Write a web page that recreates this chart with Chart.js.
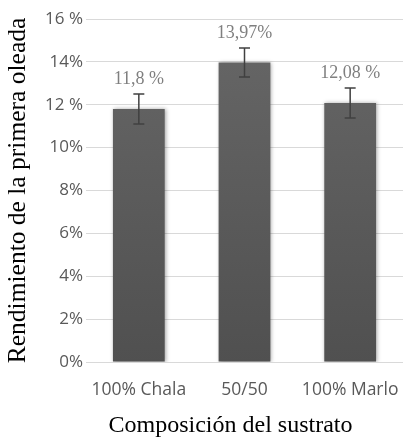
<!DOCTYPE html>
<html>
<head>
<meta charset="utf-8">
<script src="https://cdn.jsdelivr.net/npm/chart.js@4.4.0/dist/chart.umd.min.js"></script>
<style>
  html, body { margin: 0; padding: 0; background: #fff; }
  #wrap { width: 404px; height: 437px; }
</style>
</head>
<body>
<div id="wrap"><canvas id="c" width="404" height="437"></canvas></div>
<script>
// Yield of the first flush by substrate composition
const categories = ['100% Chala', '50/50', '100% Marlo'];
const yieldValues = [11.8, 13.97, 12.08];
const yieldErrors = [0.7, 0.68, 0.7];
const valueLabels = ['11,8 %', '13,97%', '12,08 %'];
const tickLabels = {0: '0%', 2: '2%', 4: '4%', 6: '6%', 8: '8%', 10: '10%', 12: '12 %', 14: '14%', 16: '16 %'};
const xAxisTitle = 'Composición del sustrato';
const yAxisTitle = 'Rendimiento de la primera oleada';

// Soft shadow around the bars
const barShadowPlugin = {
  id: 'barShadow',
  beforeDatasetsDraw(chart) {
    const ctx = chart.ctx;
    ctx.save();
    ctx.shadowColor = 'rgba(0,0,0,0.35)';
    ctx.shadowBlur = 4;
    ctx.shadowOffsetX = 1;
    ctx.shadowOffsetY = 0;
  },
  afterDatasetsDraw(chart) {
    chart.ctx.restore();
  }
};

// Error bars with caps, drawn through the chart scales
const errorBarPlugin = {
  id: 'errorBars',
  afterDatasetsDraw(chart) {
    const ctx = chart.ctx;
    const meta = chart.getDatasetMeta(0);
    const y = chart.scales.y;
    ctx.save();
    ctx.strokeStyle = '#404040';
    ctx.lineWidth = 1.5;
    meta.data.forEach((bar, i) => {
      const v = yieldValues[i], e = yieldErrors[i];
      const yTop = y.getPixelForValue(v + e);
      const yBot = y.getPixelForValue(v - e);
      const x = bar.x;
      const cap = 5.5;
      ctx.beginPath();
      ctx.moveTo(x, yTop); ctx.lineTo(x, yBot);
      ctx.moveTo(x - cap, yTop); ctx.lineTo(x + cap, yTop);
      ctx.moveTo(x - cap, yBot); ctx.lineTo(x + cap, yBot);
      ctx.stroke();
    });
    ctx.restore();
  }
};

// Value labels above each error bar
const valueLabelPlugin = {
  id: 'valueLabels',
  afterDatasetsDraw(chart) {
    const ctx = chart.ctx;
    const meta = chart.getDatasetMeta(0);
    const y = chart.scales.y;
    ctx.save();
    ctx.fillStyle = '#7f7f7f';
    ctx.font = '18px "Liberation Serif"';
    ctx.textAlign = 'center';
    ctx.textBaseline = 'alphabetic';
    meta.data.forEach((bar, i) => {
      const yTop = y.getPixelForValue(yieldValues[i] + yieldErrors[i]);
      ctx.fillText(valueLabels[i], bar.x, yTop - 10);
    });
    ctx.restore();
  }
};

// Category-axis title, set a little left of the plot centre
const xTitlePlugin = {
  id: 'xTitle',
  afterDraw(chart) {
    const ctx = chart.ctx;
    const area = chart.chartArea;
    ctx.save();
    ctx.fillStyle = '#000';
    ctx.font = '24px "Liberation Serif"';
    ctx.textAlign = 'center';
    ctx.textBaseline = 'alphabetic';
    ctx.fillText(xAxisTitle, (area.left + area.right) / 2 - 14, chart.height - 5);
    ctx.restore();
  }
};

const ctx = document.getElementById('c').getContext('2d');

function barFill(context) {
  const area = context.chart.chartArea;
  if (!area) return '#595959';
  const g = context.chart.ctx.createLinearGradient(0, area.top, 0, area.bottom);
  g.addColorStop(0, '#676767');
  g.addColorStop(1, '#505050');
  return g;
}

new Chart(ctx, {
  type: 'bar',
  data: {
    labels: categories,
    datasets: [{
      data: yieldValues,
      backgroundColor: barFill,
      borderWidth: 0,
      barPercentage: 0.7,
      categoryPercentage: 0.7
    }]
  },
  options: {
    responsive: false,
    animation: false,
    devicePixelRatio: 1,
    layout: { padding: { top: 19, right: 1, bottom: 0, left: 0 } },
    plugins: {
      legend: { display: false },
      tooltip: { enabled: false }
    },
    scales: {
      x: {
        grid: { display: false, drawTicks: false },
        border: { display: false },
        ticks: {
          color: '#595959',
          font: { family: '"Open Sans"', size: 17.5 },
          padding: 18
        },
        afterFit(scale) {
          scale.height = 75;
          scale.paddingLeft = 0;
          scale.paddingRight = 0;
        }
      },
      y: {
        min: 0,
        max: 16,
        grid: { color: '#d9d9d9', lineWidth: 1, drawTicks: false },
        border: { display: false },
        ticks: {
          stepSize: 2,
          color: '#595959',
          font: { family: '"Open Sans"', size: 17 },
          padding: 3,
          callback: (v) => tickLabels[v]
        },
        title: {
          display: true,
          text: yAxisTitle,
          color: '#000',
          font: { family: '"Liberation Serif"', size: 25.5 },
          padding: { top: 3, bottom: 0 }
        },
        afterFit(scale) {
          scale.width = 86;
          scale.paddingTop = 0;
          scale.paddingBottom = 0;
        }
      }
    }
  },
  plugins: [barShadowPlugin, errorBarPlugin, valueLabelPlugin, xTitlePlugin]
});
</script>
</body>
</html>
